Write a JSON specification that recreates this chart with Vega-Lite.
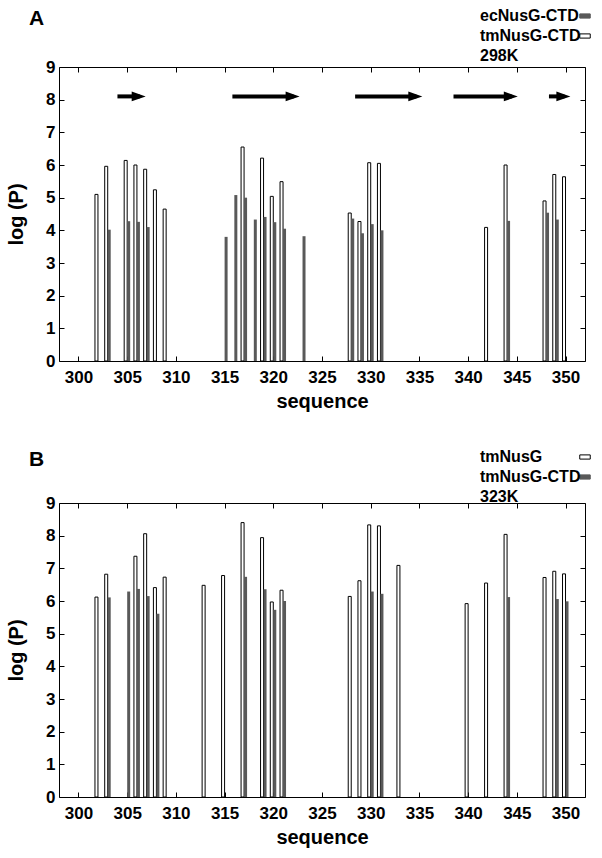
{
  "$schema": "https://vega.github.io/schema/vega-lite/v6.json",
  "background": "white",
  "padding": {"left": 6, "top": 7, "right": 5, "bottom": 5},
  "config": {
    "font": "Liberation Sans",
    "view": {"stroke": "black", "strokeWidth": 1},
    "axis": {
      "labelFont": "Liberation Sans", "labelFontWeight": "bold", "labelFontSize": 17, "labelColor": "black",
      "titleFont": "Liberation Sans", "titleFontWeight": "bold", "titleFontSize": 20, "titleColor": "black",
      "grid": false, "domain": false, "tickColor": "black", "tickSize": -5, "tickWidth": 1
    },
    "legend": {
      "orient": "none", "labelFont": "Liberation Sans", "labelFontWeight": "bold", "labelFontSize": 16,
      "labelColor": "black", "labelAlign": "left", "labelOffset": -113,
      "symbolType": "M-1,-0.4L1,-0.4L1,0.4L-1,0.4Z", "symbolSize": 110, "symbolStrokeWidth": 1,
      "rowPadding": 4, "padding": 0
    },
    "title": {"font": "Liberation Sans", "fontSize": 21, "fontWeight": "bold", "color": "black"}
  },
  "datasets": {
    "a_tm": [
      {"residue": 302, "logP": 5.1, "series": "tmNusG-CTD"},
      {"residue": 303, "logP": 5.96, "series": "tmNusG-CTD"},
      {"residue": 305, "logP": 6.14, "series": "tmNusG-CTD"},
      {"residue": 306, "logP": 6.0, "series": "tmNusG-CTD"},
      {"residue": 307, "logP": 5.87, "series": "tmNusG-CTD"},
      {"residue": 308, "logP": 5.24, "series": "tmNusG-CTD"},
      {"residue": 309, "logP": 4.65, "series": "tmNusG-CTD"},
      {"residue": 317, "logP": 6.55, "series": "tmNusG-CTD"},
      {"residue": 319, "logP": 6.21, "series": "tmNusG-CTD"},
      {"residue": 320, "logP": 5.04, "series": "tmNusG-CTD"},
      {"residue": 321, "logP": 5.49, "series": "tmNusG-CTD"},
      {"residue": 328, "logP": 4.53, "series": "tmNusG-CTD"},
      {"residue": 329, "logP": 4.27, "series": "tmNusG-CTD"},
      {"residue": 330, "logP": 6.07, "series": "tmNusG-CTD"},
      {"residue": 331, "logP": 6.05, "series": "tmNusG-CTD"},
      {"residue": 342, "logP": 4.09, "series": "tmNusG-CTD"},
      {"residue": 344, "logP": 6.0, "series": "tmNusG-CTD"},
      {"residue": 348, "logP": 4.9, "series": "tmNusG-CTD"},
      {"residue": 349, "logP": 5.71, "series": "tmNusG-CTD"},
      {"residue": 350, "logP": 5.64, "series": "tmNusG-CTD"}
    ],
    "a_ec": [
      {"residue": 303, "logP": 4.02, "series": "ecNusG-CTD"},
      {"residue": 305, "logP": 4.28, "series": "ecNusG-CTD"},
      {"residue": 306, "logP": 4.26, "series": "ecNusG-CTD"},
      {"residue": 307, "logP": 4.1, "series": "ecNusG-CTD"},
      {"residue": 315, "logP": 3.8, "series": "ecNusG-CTD"},
      {"residue": 316, "logP": 5.08, "series": "ecNusG-CTD"},
      {"residue": 317, "logP": 5.0, "series": "ecNusG-CTD"},
      {"residue": 318, "logP": 4.33, "series": "ecNusG-CTD"},
      {"residue": 319, "logP": 4.41, "series": "ecNusG-CTD"},
      {"residue": 320, "logP": 4.25, "series": "ecNusG-CTD"},
      {"residue": 321, "logP": 4.05, "series": "ecNusG-CTD"},
      {"residue": 323, "logP": 3.82, "series": "ecNusG-CTD"},
      {"residue": 328, "logP": 4.36, "series": "ecNusG-CTD"},
      {"residue": 329, "logP": 3.91, "series": "ecNusG-CTD"},
      {"residue": 330, "logP": 4.19, "series": "ecNusG-CTD"},
      {"residue": 331, "logP": 4.0, "series": "ecNusG-CTD"},
      {"residue": 344, "logP": 4.29, "series": "ecNusG-CTD"},
      {"residue": 348, "logP": 4.54, "series": "ecNusG-CTD"},
      {"residue": 349, "logP": 4.33, "series": "ecNusG-CTD"}
    ],
    "strands": [
      {"start": 304.0, "end": 306.9},
      {"start": 315.8, "end": 322.7},
      {"start": 328.4, "end": 335.3},
      {"start": 338.5, "end": 345.1},
      {"start": 348.3, "end": 350.5}
    ],
    "b_tm": [
      {"residue": 302, "logP": 6.12, "series": "tmNusG"},
      {"residue": 303, "logP": 6.82, "series": "tmNusG"},
      {"residue": 306, "logP": 7.37, "series": "tmNusG"},
      {"residue": 307, "logP": 8.06, "series": "tmNusG"},
      {"residue": 308, "logP": 6.41, "series": "tmNusG"},
      {"residue": 309, "logP": 6.73, "series": "tmNusG"},
      {"residue": 313, "logP": 6.48, "series": "tmNusG"},
      {"residue": 315, "logP": 6.78, "series": "tmNusG"},
      {"residue": 317, "logP": 8.4, "series": "tmNusG"},
      {"residue": 319, "logP": 7.94, "series": "tmNusG"},
      {"residue": 320, "logP": 5.97, "series": "tmNusG"},
      {"residue": 321, "logP": 6.33, "series": "tmNusG"},
      {"residue": 328, "logP": 6.14, "series": "tmNusG"},
      {"residue": 329, "logP": 6.62, "series": "tmNusG"},
      {"residue": 330, "logP": 8.33, "series": "tmNusG"},
      {"residue": 331, "logP": 8.3, "series": "tmNusG"},
      {"residue": 333, "logP": 7.09, "series": "tmNusG"},
      {"residue": 340, "logP": 5.92, "series": "tmNusG"},
      {"residue": 342, "logP": 6.55, "series": "tmNusG"},
      {"residue": 344, "logP": 8.04, "series": "tmNusG"},
      {"residue": 348, "logP": 6.72, "series": "tmNusG"},
      {"residue": 349, "logP": 6.91, "series": "tmNusG"},
      {"residue": 350, "logP": 6.83, "series": "tmNusG"}
    ],
    "b_ctd": [
      {"residue": 303, "logP": 6.11, "series": "tmNusG-CTD"},
      {"residue": 305, "logP": 6.29, "series": "tmNusG-CTD"},
      {"residue": 306, "logP": 6.37, "series": "tmNusG-CTD"},
      {"residue": 307, "logP": 6.15, "series": "tmNusG-CTD"},
      {"residue": 308, "logP": 5.61, "series": "tmNusG-CTD"},
      {"residue": 317, "logP": 6.74, "series": "tmNusG-CTD"},
      {"residue": 319, "logP": 6.36, "series": "tmNusG-CTD"},
      {"residue": 320, "logP": 5.73, "series": "tmNusG-CTD"},
      {"residue": 321, "logP": 6.0, "series": "tmNusG-CTD"},
      {"residue": 330, "logP": 6.29, "series": "tmNusG-CTD"},
      {"residue": 331, "logP": 6.22, "series": "tmNusG-CTD"},
      {"residue": 344, "logP": 6.12, "series": "tmNusG-CTD"},
      {"residue": 349, "logP": 6.06, "series": "tmNusG-CTD"},
      {"residue": 350, "logP": 5.99, "series": "tmNusG-CTD"}
    ]
  },
  "spacing": 36,
  "resolve": {"scale": {"fill": "independent", "stroke": "independent"}, "legend": {"fill": "independent", "stroke": "independent"}},
  "vconcat": [
    {
      "width": 526, "height": 294,
      "title": {"text": "A", "anchor": "start", "frame": "group", "dx": -30, "dy": 25},
      "resolve": {"axis": {"x": "independent", "y": "independent"}},
      "layer": [
        {
          "data": {"name": "a_tm"},
          "mark": {"type": "bar", "width": 3, "xOffset": -1.5, "strokeWidth": 1},
          "encoding": {
            "x": {"field": "residue", "type": "quantitative", "scale": {"domain": [298, 352], "nice": false, "zero": false, "padding": 0},
                  "axis": {"orient": "bottom", "values": [300,305,310,315,320,325,330,335,340,345,350], "title": "sequence", "labelPadding": 13, "titlePadding": 6}},
            "y": {"field": "logP", "type": "quantitative", "scale": {"domain": [0, 9], "nice": false},
                  "axis": {"orient": "left", "values": [0,1,2,3,4,5,6,7,8,9], "title": "log (P)", "labelPadding": 9, "titlePadding": 19}},
            "fill": {"field": "series", "type": "nominal",
                     "scale": {"domain": ["ecNusG-CTD", "tmNusG-CTD", "298K"], "range": ["#595959", "white", "transparent"]},
                     "legend": {"title": null, "legendX": 518, "legendY": -59}},
            "stroke": {"field": "series", "type": "nominal",
                     "scale": {"domain": ["ecNusG-CTD", "tmNusG-CTD", "298K"], "range": ["#595959", "black", "transparent"]},
                     "legend": {"title": null, "legendX": 518, "legendY": -59}}
          }
        },
        {
          "data": {"name": "a_ec"},
          "mark": {"type": "bar", "width": 3, "xOffset": 1.5, "strokeWidth": 0},
          "encoding": {
            "x": {"field": "residue", "type": "quantitative",
                  "axis": {"orient": "top", "values": [300,305,310,315,320,325,330,335,340,345,350], "labels": false, "title": null}},
            "y": {"field": "logP", "type": "quantitative",
                  "axis": {"orient": "right", "values": [0,1,2,3,4,5,6,7,8,9], "labels": false, "title": null}},
            "fill": {"field": "series", "type": "nominal"}
          }
        },
        {
          "data": {"name": "strands"},
          "mark": {"type": "rule", "strokeWidth": 4, "color": "black", "x2Offset": -6},
          "encoding": {
            "x": {"field": "start", "type": "quantitative", "axis": null},
            "x2": {"field": "end"},
            "y": {"datum": 8.1, "type": "quantitative", "axis": null}
          }
        },
        {
          "data": {"name": "strands"},
          "mark": {"type": "point", "shape": "M-1,-0.7L1,0L-1,0.7Z", "size": 196, "filled": true, "color": "black", "opacity": 1, "xOffset": -7},
          "encoding": {
            "x": {"field": "end", "type": "quantitative", "axis": null},
            "y": {"datum": 8.1, "type": "quantitative", "axis": null}
          }
        }
      ]
    },
    {
      "width": 526, "height": 294,
      "title": {"text": "B", "anchor": "start", "frame": "group", "dx": -30, "dy": 25},
      "resolve": {"axis": {"x": "independent", "y": "independent"}},
      "layer": [
        {
          "data": {"name": "b_tm"},
          "mark": {"type": "bar", "width": 3, "xOffset": -1.5, "strokeWidth": 1},
          "encoding": {
            "x": {"field": "residue", "type": "quantitative", "scale": {"domain": [298, 352], "nice": false, "zero": false, "padding": 0},
                  "axis": {"orient": "bottom", "values": [300,305,310,315,320,325,330,335,340,345,350], "title": "sequence", "labelPadding": 13, "titlePadding": 6}},
            "y": {"field": "logP", "type": "quantitative", "scale": {"domain": [0, 9], "nice": false},
                  "axis": {"orient": "left", "values": [0,1,2,3,4,5,6,7,8,9], "title": "log (P)", "labelPadding": 9, "titlePadding": 19}},
            "fill": {"field": "series", "type": "nominal",
                     "scale": {"domain": ["tmNusG", "tmNusG-CTD", "323K"], "range": ["white", "#595959", "transparent"]},
                     "legend": {"title": null, "legendX": 518, "legendY": -54}},
            "stroke": {"field": "series", "type": "nominal",
                     "scale": {"domain": ["tmNusG", "tmNusG-CTD", "323K"], "range": ["black", "#595959", "transparent"]},
                     "legend": {"title": null, "legendX": 518, "legendY": -54}}
          }
        },
        {
          "data": {"name": "b_ctd"},
          "mark": {"type": "bar", "width": 3, "xOffset": 1.5, "strokeWidth": 0},
          "encoding": {
            "x": {"field": "residue", "type": "quantitative",
                  "axis": {"orient": "top", "values": [300,305,310,315,320,325,330,335,340,345,350], "labels": false, "title": null}},
            "y": {"field": "logP", "type": "quantitative",
                  "axis": {"orient": "right", "values": [0,1,2,3,4,5,6,7,8,9], "labels": false, "title": null}},
            "fill": {"field": "series", "type": "nominal"}
          }
        }
      ]
    }
  ]
}
